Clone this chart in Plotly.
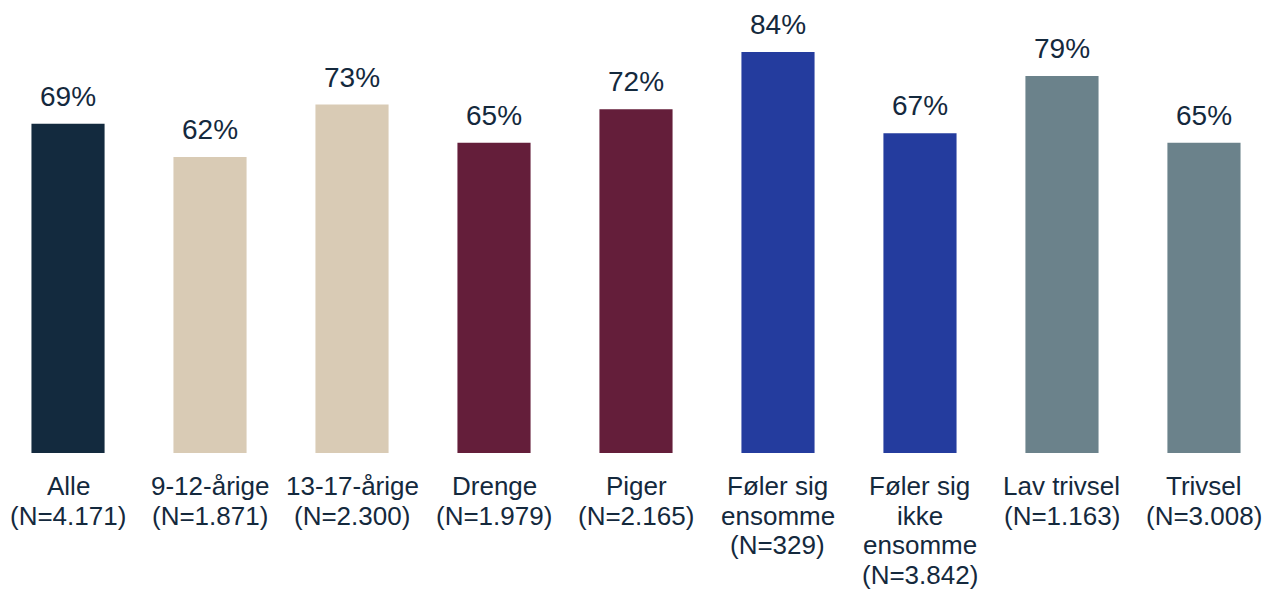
import plotly.graph_objects as go

# Andel pr. gruppe
group_lines = [
    ["Alle", "(N=4.171)"],
    ["9-12-årige", "(N=1.871)"],
    ["13-17-årige", "(N=2.300)"],
    ["Drenge", "(N=1.979)"],
    ["Piger", "(N=2.165)"],
    ["Føler sig", "ensomme", "(N=329)"],
    ["Føler sig", "ikke", "ensomme", "(N=3.842)"],
    ["Lav trivsel", "(N=1.163)"],
    ["Trivsel", "(N=3.008)"],
]
values = [69, 62, 73, 65, 72, 84, 67, 79, 65]
colors = [
    "#132A3E", "#D9CBB5", "#D9CBB5", "#641E3A", "#641E3A",
    "#243C9E", "#243C9E", "#6B828B", "#6B828B",
]

text_color = "#14293D"
font_family = "Liberation Sans, Arial, sans-serif"
line_step = 29.7  # spacing between category label lines (px)

x_idx = list(range(len(values)))

fig = go.Figure(
    go.Bar(
        x=x_idx,
        y=values,
        marker=dict(color=colors, line=dict(width=0)),
        width=0.515,
        hoverinfo="skip",
    )
)

# value labels above the bars
for i, v in zip(x_idx, values):
    fig.add_annotation(
        x=i, y=v, text=f"{v}%", showarrow=False,
        yanchor="bottom", yshift=10,
        font=dict(size=28, color=text_color, family=font_family),
    )

# category labels below the axis, one annotation per line
for i, lines in zip(x_idx, group_lines):
    for j, line in enumerate(lines):
        fig.add_annotation(
            x=i, y=0, text=line, showarrow=False,
            yanchor="top", yshift=-(16 + j * line_step),
            font=dict(size=26, color=text_color, family=font_family),
        )

fig.update_layout(
    width=1271,
    height=590,
    margin=dict(l=0, r=0, t=0, b=137),
    plot_bgcolor="white",
    paper_bgcolor="white",
    showlegend=False,
    font=dict(family=font_family, size=26, color=text_color),
)
fig.update_xaxes(
    range=[-0.479, 8.472],
    showticklabels=False,
    showgrid=False,
    zeroline=False,
    showline=False,
    ticks="",
)
fig.update_yaxes(
    range=[0, 94.9],
    visible=False,
    showgrid=False,
    zeroline=False,
)

fig.write_html("out.html")
